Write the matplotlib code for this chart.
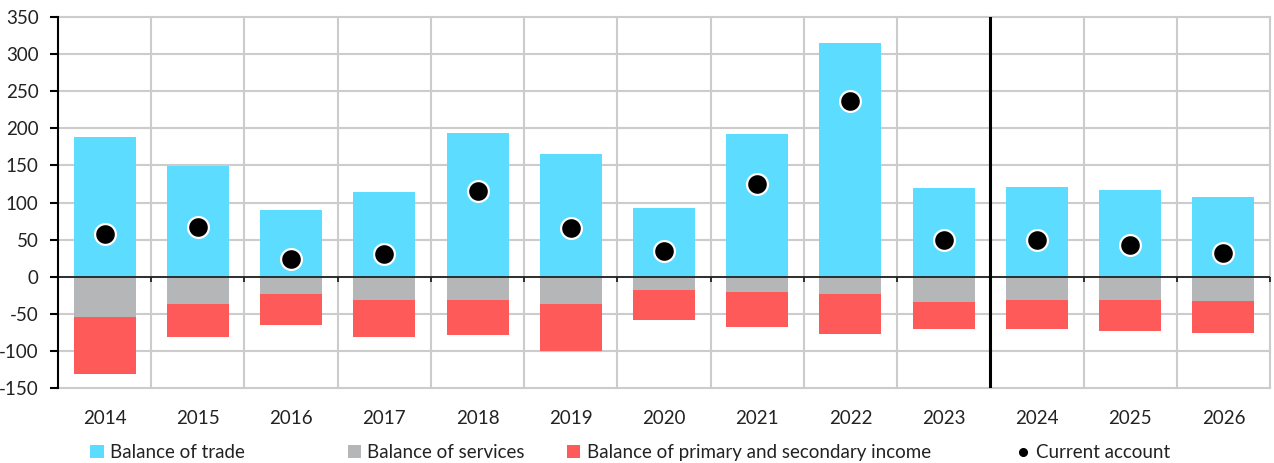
import matplotlib
matplotlib.use("Agg")
import matplotlib.pyplot as plt
from matplotlib.lines import Line2D
from matplotlib.patches import Patch
import numpy as np

years = ["2014", "2015", "2016", "2017", "2018", "2019", "2020",
         "2021", "2022", "2023", "2024", "2025", "2026"]
trade = [189, 149, 90, 114, 194, 165, 93, 193, 315, 120, 121, 117, 107]
services = [-55, -37, -24, -32, -31, -37, -18, -21, -23, -34, -32, -32, -33]
income = [-76, -44, -42, -50, -48, -63, -40, -47, -54, -37, -39, -41, -43]
current_account = [57, 67, 24, 31, 115, 65, 35, 125, 237, 50, 50, 43, 32]
y_ticks = [-150, -100, -50, 0, 50, 100, 150, 200, 250, 300, 350]
forecast_start = "2024"

BLUE = "#5CDCFF"
GREY = "#B5B6B8"
RED = "#FF5A5A"
GRID = "#CCCCCC"

plt.rcParams["font.family"] = ["Lato", "DejaVu Sans"]

fig = plt.figure(figsize=(12.74, 4.63), dpi=100)
ax = fig.add_axes([0.0455, 0.1626, 0.9514, 0.8])

x = np.arange(len(years))
width = 0.665

ax.bar(x, trade, width, color=BLUE, zorder=3)
ax.bar(x, services, width, color=GREY, zorder=3)
ax.bar(x, income, width, bottom=services, color=RED, zorder=3)
ax.plot(x, current_account, linestyle="none", marker="o", markersize=15,
        markerfacecolor="black", markeredgecolor="white", markeredgewidth=1.6,
        zorder=5)

ax.set_xlim(-0.5, len(years) - 0.5)
ax.set_ylim(y_ticks[0], y_ticks[-1])
ax.set_yticks(y_ticks)
ax.set_yticklabels([str(v) for v in y_ticks])

# grid: horizontal at every tick, vertical at category boundaries
for v in y_ticks:
    ax.axhline(v, color=GRID, lw=1.5, zorder=1, clip_on=False)
bounds = np.arange(len(years) + 1) - 0.5
for b in bounds[1:]:
    ax.axvline(b, color=GRID, lw=1.5, zorder=1, clip_on=False)

# zero line with small downward ticks at category boundaries
ax.axhline(0, color="#222222", lw=1.3, zorder=4)
ax.vlines(bounds[1:], -7, 0, color="#222222", lw=1.3, zorder=4, clip_on=False)

# separator between actuals and forecasts
split = years.index(forecast_start) - 0.5
ax.axvline(split, color="black", lw=2.2, zorder=4)

for side in ["top", "right", "bottom"]:
    ax.spines[side].set_visible(False)
ax.spines["left"].set_color("black")
ax.spines["left"].set_linewidth(1.5)
ax.spines["left"].set_zorder(4)

ax.set_xticks(x)
ax.set_xticklabels(years)
ax.tick_params(axis="x", length=0, pad=16, labelsize=13.5, colors="#222222")
ax.tick_params(axis="y", length=6, width=1.5, pad=8, labelsize=13.5,
               colors="black", labelcolor="#222222")

# legend entries placed individually along the bottom
entries = [
    (Patch(facecolor=BLUE), "Balance of trade", 0.071),
    (Patch(facecolor=GREY), "Balance of services", 0.273),
    (Patch(facecolor=RED), "Balance of primary and secondary income", 0.445),
    (Line2D([], [], linestyle="none", marker="o", markersize=5.5,
            color="black"), "Current account", 0.798),
]
for handle, label, xpos in entries:
    fig.legend([handle], [label], loc="center left", bbox_to_anchor=(xpos, 0.022),
               frameon=False, fontsize=13.5, handlelength=0.7, handleheight=0.7,
               handletextpad=0.35, borderpad=0, borderaxespad=0,
               labelcolor="#222222")

fig.savefig("out.png", dpi=100)
